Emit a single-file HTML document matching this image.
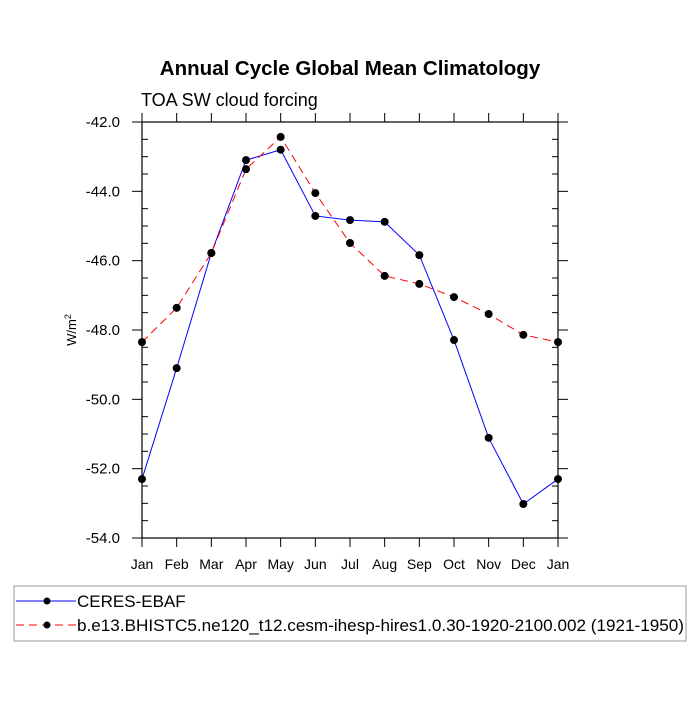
<!DOCTYPE html>
<html><head><meta charset="utf-8"><style>
body{margin:0;background:#fff}
svg text{font-family:"Liberation Sans",sans-serif}
</style></head><body>
<svg width="700" height="700" viewBox="0 0 700 700">
<text x="350" y="75" text-anchor="middle" font-size="20.5" font-weight="bold">Annual Cycle Global Mean Climatology</text>
<text x="141" y="106" font-size="18">TOA SW cloud forcing</text>
<text transform="translate(76,330) rotate(-90)" text-anchor="middle" font-size="13">W/m<tspan dy="-5" font-size="9">2</tspan></text>
<g id="axes"></g>
<g id="series"></g>
<g>
<rect x="14" y="586" width="672" height="55" fill="none" stroke="#999" stroke-width="1"/>
<g>
<line x1="16" y1="601" x2="76" y2="601" stroke="#00f" stroke-width="1"/>
<circle cx="47" cy="601" r="3.5" fill="#000"/>
<text x="77" y="607" font-size="17">CERES-EBAF</text></g>
<g>
<line x1="16" y1="625" x2="76" y2="625" stroke="#f00" stroke-width="1" stroke-dasharray="8,5"/>
<circle cx="47" cy="625" r="3.5" fill="#000"/>
<text x="77" y="631" font-size="17" textLength="607" lengthAdjust="spacingAndGlyphs">b.e13.BHISTC5.ne120_t12.cesm-ihesp-hires1.0.30-1920-2100.002 (1921-1950)</text></g>
</g>
</svg>
<script>
const months=["Jan","Feb","Mar","Apr","May","Jun","Jul","Aug","Sep","Oct","Nov","Dec","Jan"];
const ceres=[-52.3,-49.1,-45.78,-43.1,-42.8,-44.71,-44.83,-44.88,-45.84,-48.29,-51.11,-53.02,-52.3];
const model=[-48.35,-47.36,-45.78,-43.36,-42.43,-44.05,-45.49,-46.44,-46.67,-47.05,-47.54,-48.14,-48.35];
const yTicks=[-42,-44,-46,-48,-50,-52,-54];
const yTickLabels=["-42.0","-44.0","-46.0","-48.0","-50.0","-52.0","-54.0"];
const NS="http://www.w3.org/2000/svg";
const L=142,R=558,T=122,B=538,yMin=-54,yMax=-42;
const xs=i=>L+(R-L)*i/(months.length-1);
const ys=v=>B-(v-yMin)/(yMax-yMin)*(B-T);
function mk(tag,attrs,parent){const e=document.createElementNS(NS,tag);for(const k in attrs)e.setAttribute(k,attrs[k]);parent.appendChild(e);return e;}
const ax=document.getElementById('axes');
const fr=mk('rect',{x:L,y:T,width:R-L,height:B-T,fill:'none',stroke:'#000','stroke-width':1.2},ax);


months.forEach((m,i)=>{
  const x=xs(i);
  mk('line',{x1:x,y1:B,x2:x,y2:B+9,stroke:'#000'},ax);
  mk('line',{x1:x,y1:T,x2:x,y2:T-9,stroke:'#000'},ax);
  const t=mk('text',{x:x,y:B+31,'text-anchor':'middle','font-size':14},ax);
  t.textContent=m;
  
  
});
for(let v=yMin;v<=yMax+1e-9;v+=0.5){
  const y=ys(v);
  if(Math.abs(v/2-Math.round(v/2))<1e-6) continue;
  mk('line',{x1:L,y1:y,x2:L+6,y2:y,stroke:'#000'},ax);
  mk('line',{x1:R,y1:y,x2:R-6,y2:y,stroke:'#000'},ax);
}
yTicks.forEach((v,i)=>{
  const y=ys(v);
  mk('line',{x1:L,y1:y,x2:L-10,y2:y,stroke:'#000'},ax);
  mk('line',{x1:R,y1:y,x2:R+10,y2:y,stroke:'#000'},ax);
  const t=mk('text',{x:L-22,y:y+5,'text-anchor':'end','font-size':15},ax);
  t.textContent=yTickLabels[i];
  
  
});
const sg=document.getElementById('series');
function draw(data,color,dash,name){
  const pl=mk('polyline',{points:data.map((v,i)=>xs(i)+','+ys(v)).join(' '),fill:'none',stroke:color,'stroke-width':1,'stroke-dasharray':dash},sg);
  
  
  data.forEach((v,i)=>{
    const c=mk('circle',{cx:xs(i),cy:ys(v),r:4,fill:'#000'},sg);
    
    
  });
}
draw(ceres,'#00f','none','ceres');
draw(model,'#f00','8,5','model');
</script>
</body></html>
